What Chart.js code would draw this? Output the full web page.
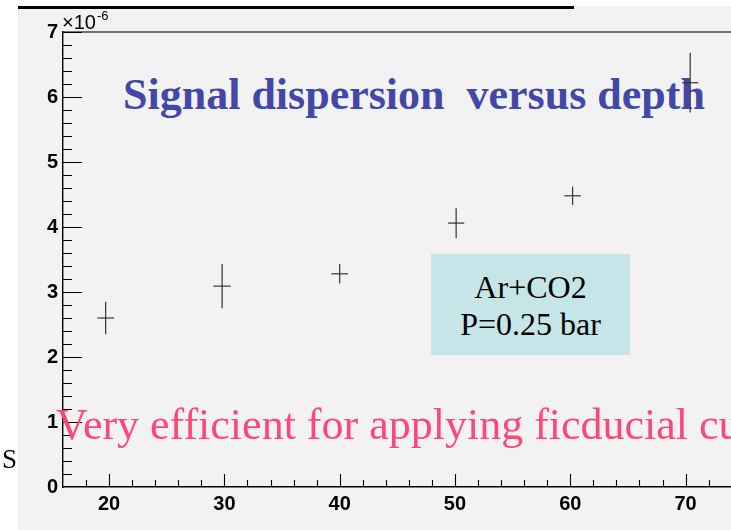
<!DOCTYPE html>
<html>
<head>
<meta charset="utf-8">
<script src="https://cdn.jsdelivr.net/npm/chart.js@4/dist/chart.umd.min.js"></script>
<style>
html,body{margin:0;padding:0;background:#fff;overflow:hidden;}
#wrap{position:relative;width:731px;height:530px;overflow:hidden;}
#panel{position:absolute;left:18px;top:6px;width:713px;height:524px;background:#f2f2f2;z-index:0;}
#topline{position:absolute;left:18px;top:6px;width:556px;height:2.5px;background:#000;z-index:1;}
#title{position:absolute;left:123px;top:72.5px;font:bold 44px "Liberation Serif";line-height:44px;color:#4348a8;white-space:pre;z-index:1;}
#cv{position:absolute;left:0;top:0;z-index:2;}
#note{position:absolute;left:56px;top:403.2px;font:44px "Liberation Serif";line-height:44px;color:#ff4679;white-space:pre;z-index:3;}
#sLetter{position:absolute;left:2px;top:445.5px;font:27px "Liberation Serif";line-height:27px;color:#000;z-index:3;}
#box{position:absolute;left:431px;top:254px;width:199px;height:101px;background:#c5e5e8;z-index:3;}
#boxtext{position:absolute;left:431px;top:268.8px;width:199px;text-align:center;font:32px "Liberation Serif";line-height:37.4px;color:#000;z-index:4;}
#exp{position:absolute;left:62px;top:12px;font:20px "Liberation Sans";line-height:20px;color:#000;z-index:3;white-space:pre;}
#expSup{position:absolute;left:97px;top:9px;font:13px "Liberation Sans";line-height:13px;color:#000;z-index:3;}
</style>
</head>
<body>
<div id="wrap">
  <div id="panel"></div>
  <div id="topline"></div>
  <div id="title">Signal dispersion  versus depth</div>
  <canvas id="cv" width="731" height="530"></canvas>
  <div id="exp">×10</div>
  <div id="expSup">-6</div>
  <div id="sLetter">S</div>
  <div id="box"></div>
  <div id="boxtext">Ar+CO2<br>P=0.25 bar</div>
  <div id="note">Very efficient for applying ficducial cuts</div>
</div>
<script>
// Data (sigma in units of 1e-6)
const depth    = [19.7, 29.8, 40.0, 50.1, 60.2, 70.4];
const depthErr = [0.72, 0.75, 0.72, 0.70, 0.72, 0.70];
const sigma    = [2.60, 3.09, 3.28, 4.06, 4.48, 6.22];
const sigmaErr = [0.25, 0.34, 0.15, 0.23, 0.14, 0.46];
const xMin = 16, xMax = 73.94, xStep = 2, xMajor = 10;
const yMin = 0, yMax = 7, yStep = 0.2;

const lineColor = '#333333';
const datasets = [];
depth.forEach((d, i) => {
  datasets.push({
    data: [{x: d, y: sigma[i] - sigmaErr[i]}, {x: d, y: sigma[i] + sigmaErr[i]}],
    showLine: true, pointRadius: 0, borderColor: lineColor, borderWidth: 1.2, fill: false
  });
  datasets.push({
    data: [{x: d - depthErr[i], y: sigma[i]}, {x: d + depthErr[i], y: sigma[i]}],
    showLine: true, pointRadius: 0, borderColor: lineColor, borderWidth: 1.2, fill: false
  });
});

const isMult = (v, m) => Math.abs(v - Math.round(v / m) * m) < 1e-6;

const frameTicks = {
  id: 'frameTicks',
  afterDraw(chart) {
    const ctx = chart.ctx, a = chart.chartArea;
    const xs = chart.scales.x, ys = chart.scales.y;
    ctx.save();
    ctx.strokeStyle = '#444';
    ctx.lineWidth = 1.3;
    ctx.beginPath();
    ctx.moveTo(a.left, a.top);
    ctx.lineTo(chart.width, a.top);
    ctx.stroke();
    ctx.strokeStyle = '#000';
    ctx.lineWidth = 1.1;
    ctx.beginPath();
    xs.ticks.forEach(t => {
      const px = Math.round(xs.getPixelForValue(t.value)) + 0.5;
      if (px <= a.left + 1) return;
      const len = isMult(t.value, xMajor) ? 13 : 7;
      ctx.moveTo(px, a.bottom);
      ctx.lineTo(px, a.bottom - len);
    });
    ys.ticks.forEach(t => {
      const py = Math.round(ys.getPixelForValue(t.value)) + 0.5;
      if (py >= a.bottom - 1) return;
      const len = isMult(t.value, 1) ? 19 : 9;
      ctx.moveTo(a.left, py);
      ctx.lineTo(a.left + len, py);
    });
    ctx.stroke();
    ctx.restore();
  }
};

new Chart(document.getElementById('cv'), {
  type: 'scatter',
  data: { datasets },
  options: {
    responsive: false,
    animation: false,
    events: [],
    layout: { padding: { top: 32, left: 0, right: 0, bottom: 0 } },
    plugins: { legend: { display: false }, tooltip: { enabled: false }, title: { display: false } },
    scales: {
      x: {
        type: 'linear', min: xMin, max: xMax,
        afterFit(s) { s.height = 43; },
        grid: { display: false, drawTicks: false },
        border: { display: true, color: '#000', width: 1.4 },
        ticks: {
          stepSize: xStep, includeBounds: false, autoSkip: false, maxRotation: 0, padding: 5,
          color: '#000', font: { family: 'Liberation Sans', weight: 'bold', size: 20 },
          callback: v => isMult(v, xMajor) ? String(Math.round(v)) : ''
        }
      },
      y: {
        type: 'linear', min: yMin, max: yMax,
        afterFit(s) { s.width = 63; },
        grid: { display: false, drawTicks: false },
        border: { display: true, color: '#000', width: 1.4 },
        ticks: {
          stepSize: yStep, includeBounds: false, autoSkip: false, padding: 5,
          color: '#000', font: { family: 'Liberation Sans', weight: 'bold', size: 20 },
          callback: v => isMult(v, 1) ? String(Math.round(v)) : ''
        }
      }
    }
  },
  plugins: [frameTicks]
});
</script>
</body>
</html>
